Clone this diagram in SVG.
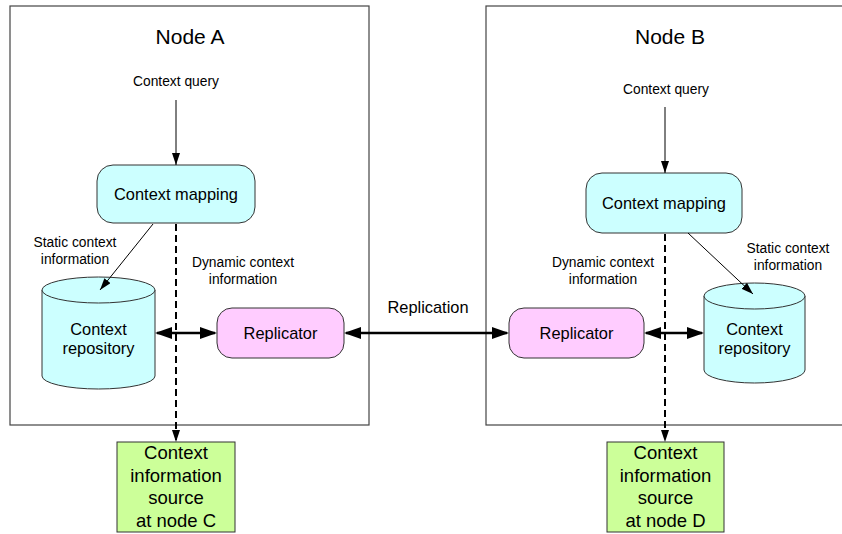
<svg xmlns="http://www.w3.org/2000/svg" width="842" height="534" viewBox="0 0 842 534">
<defs>
<style>
text{font-family:"Liberation Sans",Arial,sans-serif;fill:#000;text-anchor:middle}
.frame{fill:#fff;stroke:#444;stroke-width:1.2}
.map{fill:#ccffff;stroke:#333;stroke-width:1}
.rep{fill:#ffccff;stroke:#333;stroke-width:1}
.db{fill:#ccffff;stroke:#333;stroke-width:1}
.src{fill:#ccff99;stroke:#333;stroke-width:1}
.thin{stroke:#000;stroke-width:1;fill:none}
.thick{stroke:#000;stroke-width:2.6;fill:none}
.dash{stroke:#000;stroke-width:2;stroke-dasharray:7,4;fill:none}
.t21{font-size:21px}.t16{font-size:16.4px}.t14{font-size:13.8px}.t18{font-size:18.5px}
</style>
<marker id="ah" markerUnits="userSpaceOnUse" markerWidth="12" markerHeight="8" refX="12" refY="4" orient="auto"><path d="M0,0 L12,4 L0,8 z" fill="#000"/></marker>
<marker id="ahb" markerUnits="userSpaceOnUse" markerWidth="17" markerHeight="12" refX="15" refY="6" orient="auto-start-reverse"><path d="M0,0 L17,6 L0,12 z" fill="#000"/></marker>
</defs>

<g id="nodeA">
<rect class="frame" x="10" y="6" width="359" height="419"/>
<text class="t21" x="190" y="44">Node A</text>
</g>
<g id="nodeB">
<rect class="frame" x="486" y="6" width="370" height="419"/>
<text class="t21" x="670" y="44">Node B</text>
</g>

<g id="labels">
<text class="t14" x="176" y="86">Context query</text>
<text class="t14" x="666" y="94">Context query</text>
<text class="t14" x="75" y="247">Static context</text>
<text class="t14" x="75" y="264">information</text>
<text class="t14" x="243" y="267">Dynamic context</text>
<text class="t14" x="243" y="284">information</text>
<text class="t14" x="603" y="267">Dynamic context</text>
<text class="t14" x="603" y="284">information</text>
<text class="t14" x="788" y="253">Static context</text>
<text class="t14" x="788" y="270">information</text>
<text class="t16" x="428" y="313">Replication</text>
</g>

<g id="mappingA">
<rect class="map" x="97" y="165" width="158" height="58" rx="16"/>
<text class="t16" x="176" y="200">Context mapping</text>
</g>
<g id="mappingB">
<rect class="map" x="586" y="173" width="156" height="60" rx="16"/>
<text class="t16" x="664" y="209">Context mapping</text>
</g>

<g id="repositoryA">
<path class="db" d="M42,290 A56.5,13 0 0,1 155,290 L155,376 A56.5,13 0 0,1 42,376 Z"/>
<path class="db" d="M42,290 A56.5,13 0 0,0 155,290" fill="none"/>
<text class="t16" x="98.5" y="335">Context</text>
<text class="t16" x="98.5" y="354">repository</text>
</g>
<g id="repositoryB">
<path class="db" d="M704,296 A50.5,13 0 0,1 805,296 L805,370 A50.5,13 0 0,1 704,370 Z"/>
<path class="db" d="M704,296 A50.5,13 0 0,0 805,296" fill="none"/>
<text class="t16" x="754.5" y="335">Context</text>
<text class="t16" x="754.5" y="354">repository</text>
</g>

<g id="replicatorA">
<rect class="rep" x="217" y="308" width="127" height="50" rx="15"/>
<text class="t16" x="280.5" y="339">Replicator</text>
</g>
<g id="replicatorB">
<rect class="rep" x="509" y="308" width="135" height="50" rx="15"/>
<text class="t16" x="576.5" y="339">Replicator</text>
</g>

<g id="sourceC">
<rect class="src" x="117" y="442" width="118" height="90"/>
<text class="t18" x="176" y="459">Context</text>
<text class="t18" x="176" y="482">information</text>
<text class="t18" x="176" y="504">source</text>
<text class="t18" x="176" y="527">at node C</text>
</g>
<g id="sourceD">
<rect class="src" x="607" y="442" width="117" height="90"/>
<text class="t18" x="665.5" y="459">Context</text>
<text class="t18" x="665.5" y="482">information</text>
<text class="t18" x="665.5" y="504">source</text>
<text class="t18" x="665.5" y="527">at node D</text>
</g>

<g id="connectors">
<line class="thin" x1="176" y1="100" x2="176" y2="165" marker-end="url(#ah)"/>
<line class="thin" x1="665" y1="107" x2="665" y2="173" marker-end="url(#ah)"/>
<line class="thin" x1="153" y1="224" x2="100" y2="290" marker-end="url(#ah)"/>
<line class="thin" x1="688" y1="233" x2="753" y2="294" marker-end="url(#ah)"/>
<line class="dash" x1="176" y1="224" x2="176" y2="442" marker-end="url(#ah)"/>
<line class="dash" x1="665" y1="234" x2="665" y2="442" marker-end="url(#ah)"/>
<line class="thick" x1="157" y1="333" x2="215" y2="333" marker-start="url(#ahb)" marker-end="url(#ahb)"/>
<line class="thick" x1="346" y1="333" x2="507" y2="333" marker-start="url(#ahb)" marker-end="url(#ahb)"/>
<line class="thick" x1="646" y1="333" x2="702" y2="333" marker-start="url(#ahb)" marker-end="url(#ahb)"/>
</g>
</svg>
